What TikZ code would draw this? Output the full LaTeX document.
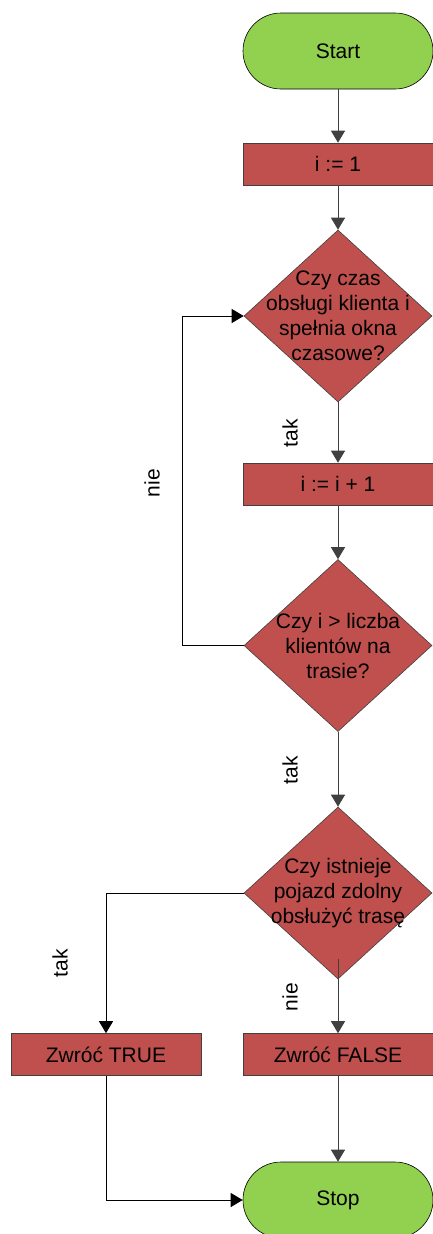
\documentclass[tikz,border=0pt]{standalone}
\usepackage{fontspec}
\setmainfont{Liberation Sans}
\usetikzlibrary{arrows.meta,shapes.geometric}
\definecolor{termgreen}{RGB}{146,208,80}
\definecolor{procred}{RGB}{192,80,77}
\definecolor{edgegray}{RGB}{64,64,64}
\begin{document}
\begin{tikzpicture}[x=1pt,y=-1pt,
  every node/.style={font=\fontsize{21}{25}\selectfont, text=black},
  terminal/.style={draw=black, line width=0.6pt, fill=termgreen, rectangle,
    rounded corners=38pt, minimum width=190pt, minimum height=76pt, inner sep=0pt},
  process/.style={draw=edgegray, line width=0.6pt, fill=procred, rectangle,
    minimum width=190pt, minimum height=42pt, inner sep=0pt},
  decision/.style={draw=edgegray, line width=0.6pt, fill=procred, diamond,
    minimum width=188pt, minimum height=172pt, inner sep=0pt},
  dtext/.style={align=center, inner sep=0pt},
  flow/.style={draw=edgegray, line width=1pt, -{Triangle[length=12pt,width=14pt]}},
  vlabel/.style={rotate=90, inner sep=0pt},
]
\useasboundingbox (0,0) rectangle (432,1234);

% nodes
\node[terminal] (start) at (338,51) {Start};
\node[process]  (init)  at (338,164) {i := 1};
\node[decision] (d1) at (338,316)
  {}; \node[dtext] (d1t) at (d1.center) {Czy czas\\obsługi klienta i\\spełnia okna\\czasowe?};
\node[process]  (inc)   at (338,484) {i := i + 1};
\node[decision] (d2) at (338,645.5)
  {}; \node[dtext] (d2t) at (d2.center) {Czy i > liczba\\klientów na\\trasie?};
\node[decision] (d3) at (338,893)
  {}; \node[dtext] (d3t) at (d3.center) {Czy istnieje\\pojazd zdolny\\obsłużyć trasę};
\node[process]  (btrue)  at (106,1054.5) {Zwróć TRUE};
\node[process]  (bfalse) at (338,1054.5) {Zwróć FALSE};
\node[terminal] (stop) at (338,1200) {Stop};

% connectors
\draw[flow] (start.south) -- (init.north);
\draw[flow] (init.south) -- (d1.north);
\draw[flow] (d1.south) -- (inc.north);
\draw[flow] (inc.south) -- (d2.north);
\draw[flow] (d2.south) -- (d3.north);
\draw[flow, draw=black] (d2.west) -- ++(-61,0) |- (d1.west);
\draw[flow, draw=black] (d3.west) -| (btrue.north);
\draw[flow] ([yshift=20pt]d3.south) -- (bfalse.north);
\draw[flow] (bfalse.south) -- (stop.north);
\draw[flow, draw=black] (btrue.south) |- (stop.west);

% branch labels
\node[vlabel] (l1) at (290,433) {tak};
\node[vlabel] (l2) at (152,483) {nie};
\node[vlabel] (l3) at (290,770) {tak};
\node[vlabel] (l4) at (60,963) {tak};
\node[vlabel] (l5) at (290,997) {nie};
\end{tikzpicture}
\end{document}
